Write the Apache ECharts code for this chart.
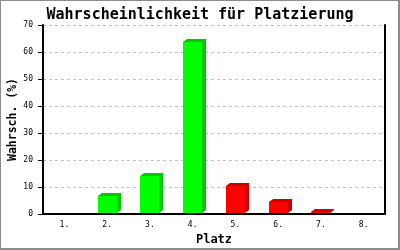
<!DOCTYPE html>
<html>
<head>
<meta charset="utf-8">
<script src="https://cdn.jsdelivr.net/npm/echarts@6/dist/echarts.min.js"></script>
<style>
html,body{margin:0;padding:0;background:#fff;}
#frame{position:absolute;left:0;top:0;width:397px;height:247px;border-left:1px solid #8c8c8c;border-top:1px solid #8c8c8c;border-right:2px solid #8c8c8c;border-bottom:2px solid #8c8c8c;}
#chart{position:absolute;left:0;top:0;width:400px;height:250px;}
</style>
</head>
<body>
<div id="frame"></div>
<div id="chart"></div>
<script>
const titleText = "Wahrscheinlichkeit für Platzierung";
const yAxisName = "Wahrsch. (%)";
const xAxisName = "Platz";
const categories = ["1.", "2.", "3.", "4.", "5.", "6.", "7.", "8."];
const values = [0, 6.7, 14.1, 63.7, 10.4, 4.4, 0.7, 0];
const yTicks = [0, 10, 20, 30, 40, 50, 60, 70];

const frontColors = ["#00ff00","#00ff00","#00ff00","#00ff00","#ff0000","#ff0000","#ff0000","#ff0000"];
const sideColors  = ["#00c800","#00c800","#00c800","#00c800","#c80000","#c80000","#c80000","#c80000"];

const mono = "'DejaVu Sans Mono', 'Liberation Mono', monospace";
const chart = echarts.init(document.getElementById('chart'), null, {renderer:'canvas'});
chart.setOption({
  animation: false,
  backgroundColor: 'transparent',
  title: {
    text: titleText, left: 'center', top: 3,
    textStyle: {fontFamily: mono, fontSize: 15, fontWeight: 'bold', color: '#000'}
  },
  grid: {left: 43, right: 15, top: 25, bottom: 36, containLabel: false, outerBoundsMode: 'none'},
  xAxis: {
    type: 'category', data: categories,
    name: xAxisName, nameLocation: 'middle', nameGap: 20, nameMoveOverlap: false,
    nameTextStyle: {fontFamily: mono, fontSize: 12, fontWeight: 'bold', color: '#000'},
    axisLine: {lineStyle: {color: '#000', width: 2}},
    axisTick: {show: false},
    axisLabel: {fontFamily: mono, fontSize: 8, color: '#000', margin: 7}
  },
  yAxis: [{
    type: 'value', min: yTicks[0], max: yTicks[yTicks.length-1], interval: 10,
    name: yAxisName, nameLocation: 'middle', nameGap: 24, nameMoveOverlap: false,
    nameTextStyle: {fontFamily: mono, fontSize: 11.5, fontWeight: 'bold', color: '#000'},
    axisLine: {show: true, lineStyle: {color: '#000', width: 2}},
    axisTick: {show: true, length: 5, lineStyle: {color: '#000', width: 1}},
    axisLabel: {fontFamily: mono, fontSize: 8, color: '#000', margin: 10},
    splitLine: {show: true, lineStyle: {color: '#c0c0c0', type: [3, 3], width: 1}}
  }, {
    type: 'value', min: 0, max: 70, interval: 10, position: 'right',
    axisLine: {show: true, lineStyle: {color: '#000', width: 2}},
    axisTick: {show: false}, axisLabel: {show: false}, splitLine: {show: false}
  }],
  series: [{
    type: 'custom',
    data: values.map((v, i) => [i, v]),
    encode: {x: 0, y: 1},
    renderItem: function (params, api) {
      const i = api.value(0), v = api.value(1);
      if (!(v > 0)) return null;
      const top = api.coord([i, v]);
      const base = api.coord([i, 0]);
      const w = 19, dx = 4, dy = 3;
      const x0 = Math.round(top[0] - w / 2), x1 = x0 + w;
      const yt = Math.round(top[1]), yb = Math.round(base[1]) - 1;
      return {
        type: 'group',
        children: [{
          type: 'polygon',
          shape: {points: [[x0, yt], [x0 + dx, yt - dy], [x1 + dx, yt - dy], [x1 + dx, yb - dy], [x1, yb], [x0, yb]]},
          style: {fill: sideColors[i]}
        }, {
          type: 'rect',
          shape: {x: x0, y: yt, width: w, height: yb - yt},
          style: {fill: frontColors[i]}
        }]
      };
    }
  }]
});
</script>
</body>
</html>
